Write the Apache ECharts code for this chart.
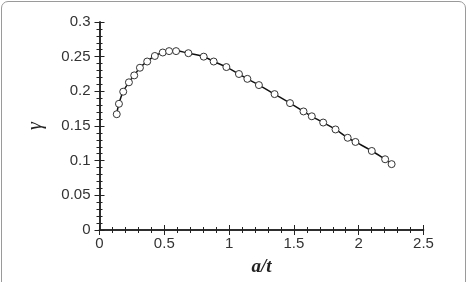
<!DOCTYPE html>
<html>
<head>
<meta charset="utf-8">
<script src="https://cdn.jsdelivr.net/npm/echarts@6/dist/echarts.min.js"></script>
<style>
  html, body { margin: 0; padding: 0; background: #fff; }
  #frame {
    position: absolute; left: 1px; top: 1px; width: 465px; height: 292px;
    border: 1px solid #9a9a9a; border-radius: 7px; box-sizing: border-box;
  }
  #chart { position: absolute; left: 0; top: 0; width: 471px; height: 282px; }
</style>
</head>
<body>
<div id="frame"></div>
<div id="chart"></div>
<script>
// a/t values and measured gamma
const aOverT = [0.133, 0.150, 0.183, 0.227, 0.268, 0.312, 0.368, 0.427, 0.488, 0.537,
  0.591, 0.686, 0.804, 0.881, 0.979, 1.076, 1.141, 1.230, 1.351, 1.470,
  1.574, 1.638, 1.726, 1.821, 1.915, 1.975, 2.101, 2.204, 2.254]
const gamma = [0.167, 0.182, 0.1995, 0.213, 0.223, 0.234, 0.243, 0.251, 0.256, 0.258,
  0.258, 0.255, 0.250, 0.243, 0.235, 0.225, 0.218, 0.209, 0.196, 0.183,
  0.171, 0.164, 0.155, 0.145, 0.133, 0.127, 0.114, 0.102, 0.095]
const xTicks = [0, 0.5, 1, 1.5, 2, 2.5]
const yTicks = [0, 0.05, 0.1, 0.15, 0.2, 0.25, 0.3]

const pts = aOverT.map((x, i) => [x, gamma[i]])
const labelFont = { color: '#333', fontSize: 15, fontFamily: 'Liberation Sans, Arial, sans-serif' }
const axisLine = { show: true, lineStyle: { color: '#222', width: 1.5 } }
const tick = { show: true, inside: true, length: 5, lineStyle: { color: '#222', width: 1 } }
const minor = { show: true, splitNumber: 5, length: 3, lineStyle: { color: '#222', width: 1 } }

const chart = echarts.init(document.getElementById('chart'))
chart.setOption({
  animation: false,
  grid: { left: 99.5, right: 47.5, top: 22, bottom: 47 },
  xAxis: [
    {
      type: 'value', min: xTicks[0], max: xTicks[xTicks.length - 1], interval: 0.5,
      name: 'a/t', nameLocation: 'middle', nameGap: 28,
      nameTextStyle: { fontFamily: 'Liberation Serif, serif', fontStyle: 'italic', fontWeight: 'bold', fontSize: 19, color: '#222' },
      axisLine, axisTick: tick, minorTick: minor, splitLine: { show: false },
      axisLabel: { ...labelFont, margin: 6 }
    },
    {
      type: 'value', position: 'top', min: 0, max: 2.5, interval: 0.5,
      axisLine, axisTick: tick, minorTick: minor, splitLine: { show: false },
      axisLabel: { show: false }
    }
  ],
  yAxis: [
    {
      type: 'value', min: yTicks[0], max: yTicks[yTicks.length - 1], interval: 0.05,
      name: 'γ', nameLocation: 'middle', nameGap: 54,
      nameTextStyle: { fontFamily: 'Liberation Serif, serif', fontStyle: 'italic', fontSize: 20, color: '#222' },
      axisLine, axisTick: tick, minorTick: minor, splitLine: { show: false },
      axisLabel: { ...labelFont, margin: 9 }
    },
    {
      type: 'value', position: 'right', min: 0, max: 0.3, interval: 0.05,
      axisLine, axisTick: tick, minorTick: minor, splitLine: { show: false },
      axisLabel: { show: false }
    }
  ],
  series: [
    {
      type: 'line',
      data: pts,
      smooth: true,
      symbol: 'circle',
      symbolSize: 7,
      lineStyle: { color: '#111', width: 1.5 },
      itemStyle: { color: '#fff', borderColor: '#333', borderWidth: 1 }
    }
  ]
})
</script>
</body>
</html>
